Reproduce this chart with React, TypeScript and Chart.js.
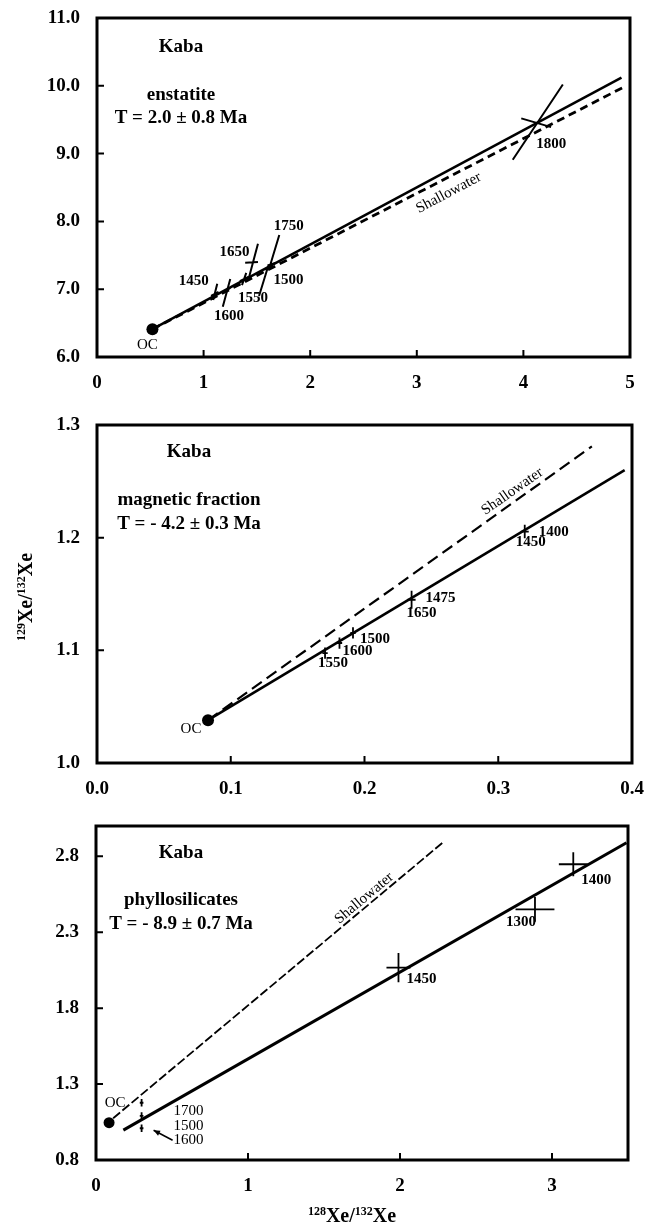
import React, { useEffect, useRef } from 'react';
import { Chart, registerables } from 'chart.js';

Chart.register(...registerables);

const SERIF = '"Liberation Serif", "Times New Roman", Times, serif';

// ---------------- Panel 1: enstatite ----------------
const p1XTicks = [0, 1, 2, 3, 4, 5];
const p1YTicks = [6, 7, 8, 9, 10, 11];
const p1FitX = [0.52, 4.92];
const p1FitY = [6.41, 10.12];
const p1ShalX = [0.52, 4.94];
const p1ShalY = [6.41, 9.98];
const p1OcX = [0.52];
const p1OcY = [6.41];
const p1Steps = ['1450', '1600', '1550', '1650', '1500', '1750', '1800'];
const p1X = [1.105, 1.22, 1.38, 1.45, 1.6, 1.64, 4.11];
const p1Y = [6.93, 6.99, 7.15, 7.39, 7.31, 7.37, 9.46];
// correlated error arms [x1, y1, x2, y2]
const p1ArmA = [
  [1.128, 7.08, 1.09, 6.84],
  [1.25, 7.15, 1.18, 6.74],
  [1.4, 7.24, 1.36, 7.06],
  [1.51, 7.67, 1.42, 7.14],
  [1.61, 7.36, 1.52, 6.9],
  [1.71, 7.8, 1.62, 7.33],
  [4.37, 10.02, 3.9, 8.91],
];
const p1ArmB = [
  [1.07, 6.9, 1.14, 6.96],
  [1.19, 6.96, 1.25, 7.02],
  [1.34, 7.12, 1.42, 7.18],
  [1.39, 7.39, 1.51, 7.4],
  [1.57, 7.29, 1.65, 7.34],
  [1.6, 7.35, 1.68, 7.39],
  [3.98, 9.52, 4.26, 9.39],
];

// ---------------- Panel 2: magnetic fraction ----------------
const p2XTicks = [0, 0.1, 0.2, 0.3, 0.4];
const p2YTicks = [1.0, 1.1, 1.2, 1.3];
const p2FitX = [0.083, 0.3945];
const p2FitY = [1.038, 1.26];
const p2ShalX = [0.083, 0.37];
const p2ShalY = [1.038, 1.281];
const p2OcX = [0.083];
const p2OcY = [1.038];
const p2Steps = [['1400', '1450'], ['1475', '1650'], ['1500'], ['1600'], ['1550']];
const p2X = [0.3198, 0.2352, 0.1914, 0.1813, 0.1705];
const p2Y = [1.2054, 1.1449, 1.1154, 1.1065, 1.0976];
const p2XErr = [0.003, 0.003, 0.002, 0.002, 0.002];
const p2YErr = [0.006, 0.008, 0.005, 0.005, 0.005];

// ---------------- Panel 3: phyllosilicates ----------------
const p3XTicks = [0, 1, 2, 3];
const p3YTicks = [0.8, 1.3, 1.8, 2.3, 2.8];
const p3FitX = [0.18, 3.49];
const p3FitY = [0.997, 2.89];
const p3ShalX = [0.113, 2.28];
const p3ShalY = [1.075, 2.89];
const p3OcX = [0.086];
const p3OcY = [1.046];
const p3Steps = [['1400'], ['1300'], ['1450'], ['1700'], ['1500'], ['1600']];
const p3X = [3.14, 2.888, 1.99, 0.3, 0.3, 0.3];
const p3Y = [2.748, 2.451, 2.067, 1.177, 1.09, 1.009];
const p3XErr = [0.095, 0.128, 0.079, 0.012, 0.012, 0.012];
const p3YErr = [0.079, 0.082, 0.096, 0.025, 0.025, 0.025];

// ---------------- helpers ----------------
type Seg = number[];
const pts = (xs: number[], ys: number[]) => xs.map((x, i) => ({ x, y: ys[i] }));
const segData = (segs: Seg[]) => {
  const out: any[] = [];
  segs.forEach(([x1, y1, x2, y2]) => {
    out.push({ x: x1, y: y1 }, { x: x2, y: y2 }, { x: x2, y: null });
  });
  return out;
};
const errSegs = (xs: number[], ys: number[], xe: number[], ye: number[]): Seg[] => {
  const s: Seg[] = [];
  xs.forEach((x, i) => {
    s.push([x - xe[i], ys[i], x + xe[i], ys[i]]);
    s.push([x, ys[i] - ye[i], x, ys[i] + ye[i]]);
  });
  return s;
};

interface PanelDef {
  top: number;
  height: number;
  pad: { top: number; right: number };
  yWidth: number;
  xHeight: number;
  xMin: number; xMax: number; yMin: number; yMax: number;
  xTicks: number[]; yTicks: number[]; xDec: number; yDec: number;
  fit: any[]; shal: any[]; oc: any[]; arms: Seg[];
  fitWidth: number; shalWidth: number; shalDash: number[]; ocRadius: number; armWidth: number;
  header: { text: string; dx: number; dy: number }[];
  stepPts: { x: number; y: number }[];
  stepLabels: string[][];
  labelOffsets: number[][][];
  labelWeights: string[];
  ocOffset: number[];
  shalLabel: { x: number; y: number; rot: number };
  arrow?: { idx: number; from: number[]; to: number[] };
  yTitle?: { x: number; y: number };
  xTitle?: { x: number; y: number };
}

const drawSupTitle = (ctx: CanvasRenderingContext2D, cx: number, cy: number, rot: number, a: string, b: string) => {
  const main = `bold 20px ${SERIF}`;
  const sup = `bold 12px ${SERIF}`;
  const parts: [string, string, number][] = [
    [a, sup, -7], ['Xe', main, 0], ['/', main, 0], [b, sup, -7], ['Xe', main, 0],
  ];
  ctx.save();
  ctx.translate(cx, cy);
  ctx.rotate(rot);
  ctx.textBaseline = 'alphabetic';
  ctx.textAlign = 'left';
  let total = 0;
  parts.forEach(([t, f]) => { ctx.font = f; total += ctx.measureText(t).width; });
  let x = -total / 2;
  parts.forEach(([t, f, dy]) => {
    ctx.font = f;
    ctx.fillText(t, x, 7 + dy);
    x += ctx.measureText(t).width;
  });
  ctx.restore();
};

const decorPlugin = (def: PanelDef) => ({
  id: 'decor',
  afterDatasetsDraw(chart: any) {
    const { ctx, chartArea: a, scales } = chart;
    const xs = scales.x;
    const ys = scales.y;
    ctx.save();
    ctx.strokeStyle = '#000';
    ctx.fillStyle = '#000';
    // frame
    ctx.lineWidth = 3;
    ctx.strokeRect(a.left, a.top, a.right - a.left, a.bottom - a.top);
    // inward tick marks
    ctx.lineWidth = 2;
    ctx.beginPath();
    ys.ticks.forEach((t: any) => {
      const p = ys.getPixelForValue(t.value);
      ctx.moveTo(a.left, p);
      ctx.lineTo(a.left + 7, p);
    });
    xs.ticks.forEach((t: any) => {
      const p = xs.getPixelForValue(t.value);
      ctx.moveTo(p, a.bottom);
      ctx.lineTo(p, a.bottom - 7);
    });
    ctx.stroke();
    // header text
    ctx.textAlign = 'center';
    ctx.textBaseline = 'middle';
    ctx.font = `bold 19px ${SERIF}`;
    def.header.forEach((h) => ctx.fillText(h.text, a.left + h.dx, a.top + h.dy));
    // step labels
    def.stepPts.forEach((p, i) => {
      const px = xs.getPixelForValue(p.x);
      const py = ys.getPixelForValue(p.y);
      ctx.font = `${def.labelWeights[i]} 15px ${SERIF}`;
      def.stepLabels[i].forEach((lab, j) => {
        const off = def.labelOffsets[i][j];
        ctx.fillText(lab, px + off[0], py + off[1]);
      });
    });
    // OC label
    const ocx = xs.getPixelForValue(def.oc[0].x);
    const ocy = ys.getPixelForValue(def.oc[0].y);
    ctx.font = `15px ${SERIF}`;
    ctx.fillText('OC', ocx + def.ocOffset[0], ocy + def.ocOffset[1]);
    // Shallowater label
    ctx.save();
    ctx.translate(xs.getPixelForValue(def.shalLabel.x), ys.getPixelForValue(def.shalLabel.y));
    ctx.rotate((def.shalLabel.rot * Math.PI) / 180);
    ctx.font = `15px ${SERIF}`;
    ctx.fillText('Shallowater', 0, 0);
    ctx.restore();
    // arrow
    if (def.arrow) {
      const p = def.stepPts[def.arrow.idx];
      const px = xs.getPixelForValue(p.x);
      const py = ys.getPixelForValue(p.y);
      const x1 = px + def.arrow.from[0], y1 = py + def.arrow.from[1];
      const x2 = px + def.arrow.to[0], y2 = py + def.arrow.to[1];
      ctx.lineWidth = 1.5;
      ctx.beginPath();
      ctx.moveTo(x1, y1);
      ctx.lineTo(x2, y2);
      ctx.stroke();
      const ang = Math.atan2(y2 - y1, x2 - x1);
      ctx.beginPath();
      ctx.moveTo(x2, y2);
      ctx.lineTo(x2 - 7 * Math.cos(ang - 0.4), y2 - 7 * Math.sin(ang - 0.4));
      ctx.lineTo(x2 - 7 * Math.cos(ang + 0.4), y2 - 7 * Math.sin(ang + 0.4));
      ctx.closePath();
      ctx.fill();
    }
    if (def.yTitle) drawSupTitle(ctx, def.yTitle.x, def.yTitle.y, -Math.PI / 2, '129', '132');
    if (def.xTitle) drawSupTitle(ctx, def.xTitle.x, def.xTitle.y, 0, '128', '132');
    ctx.restore();
  },
});

const buildConfig = (def: PanelDef): any => ({
  type: 'scatter',
  data: {
    datasets: [
      { data: def.fit, showLine: true, borderColor: '#000', borderWidth: def.fitWidth, pointRadius: 0 },
      { data: def.shal, showLine: true, borderColor: '#000', borderWidth: def.shalWidth, borderDash: def.shalDash, pointRadius: 0 },
      { data: segData(def.arms), showLine: true, spanGaps: false, borderColor: '#000', borderWidth: def.armWidth, pointRadius: 0 },
      { data: def.oc, showLine: false, pointRadius: def.ocRadius, backgroundColor: '#000', borderColor: '#000', borderWidth: 0 },
    ],
  },
  options: {
    animation: false,
    responsive: false,
    devicePixelRatio: 1,
    events: [],
    layout: { padding: { top: def.pad.top, right: def.pad.right, left: 0, bottom: 0 } },
    plugins: { legend: { display: false }, tooltip: { enabled: false } },
    scales: {
      x: {
        type: 'linear',
        min: def.xMin,
        max: def.xMax,
        afterBuildTicks: (s: any) => { s.ticks = def.xTicks.map((v) => ({ value: v })); },
        afterFit: (s: any) => {
          s.height = def.xHeight;
          s.paddingLeft = 0;
          s.paddingRight = 0;
        },
        grid: { display: false, drawTicks: false },
        border: { display: false },
        ticks: {
          autoSkip: false,
          maxRotation: 0,
          padding: 15,
          color: '#000',
          font: { family: SERIF, size: 19, weight: 'bold' },
          callback: (v: number) => Number(v).toFixed(def.xDec),
        },
      },
      y: {
        type: 'linear',
        min: def.yMin,
        max: def.yMax,
        afterBuildTicks: (s: any) => { s.ticks = def.yTicks.map((v) => ({ value: v })); },
        afterFit: (s: any) => {
          s.width = def.yWidth;
          s.paddingTop = 0;
          s.paddingBottom = 0;
        },
        grid: { display: false, drawTicks: false },
        border: { display: false },
        ticks: {
          autoSkip: false,
          padding: 17,
          color: '#000',
          font: { family: SERIF, size: 19, weight: 'bold' },
          callback: (v: number) => Number(v).toFixed(def.yDec),
        },
      },
    },
  },
  plugins: [decorPlugin(def)],
});

const panel1: PanelDef = {
  top: 0, height: 400, pad: { top: 18, right: 15 }, yWidth: 97, xHeight: 43,
  xMin: 0, xMax: 5, yMin: 6, yMax: 11, xTicks: p1XTicks, yTicks: p1YTicks, xDec: 0, yDec: 1,
  fit: pts(p1FitX, p1FitY), shal: pts(p1ShalX, p1ShalY), oc: pts(p1OcX, p1OcY),
  arms: [...p1ArmA, ...p1ArmB],
  fitWidth: 2.5, shalWidth: 2.8, shalDash: [8, 5], ocRadius: 6, armWidth: 2,
  header: [
    { text: 'Kaba', dx: 84, dy: 29 },
    { text: 'enstatite', dx: 84, dy: 77 },
    { text: 'T = 2.0 ± 0.8 Ma', dx: 84, dy: 100 },
  ],
  stepPts: pts(p1X, p1Y),
  stepLabels: p1Steps.map((s) => [s]),
  labelOffsets: [[[-21, -13]], [[2, 26]], [[9, 19]], [[-17, -11]], [[21, 12]], [[17, -38]], [[16, 22]]],
  labelWeights: p1Steps.map(() => 'bold'),
  ocOffset: [-5, 16],
  shalLabel: { x: 3.3, y: 8.42, rot: -28 },
};

const panel2: PanelDef = {
  top: 400, height: 400, pad: { top: 25, right: 13 }, yWidth: 97, xHeight: 37,
  xMin: 0, xMax: 0.4, yMin: 1.0, yMax: 1.3, xTicks: p2XTicks, yTicks: p2YTicks, xDec: 1, yDec: 1,
  fit: pts(p2FitX, p2FitY), shal: pts(p2ShalX, p2ShalY), oc: pts(p2OcX, p2OcY),
  arms: errSegs(p2X, p2Y, p2XErr, p2YErr),
  fitWidth: 2.6, shalWidth: 2.2, shalDash: [12, 6], ocRadius: 6, armWidth: 1.8,
  header: [
    { text: 'Kaba', dx: 92, dy: 27 },
    { text: 'magnetic fraction', dx: 92, dy: 75 },
    { text: 'T = - 4.2 ± 0.3 Ma', dx: 92, dy: 99 },
  ],
  stepPts: pts(p2X, p2Y),
  stepLabels: p2Steps,
  labelOffsets: [[[29, 1], [6, 11]], [[29, -2], [10, 13]], [[22, 6]], [[18, 8]], [[8, 10]]],
  labelWeights: p2Steps.map(() => 'bold'),
  ocOffset: [-17, 9],
  shalLabel: { x: 0.3105, y: 1.241, rot: -35 },
  yTitle: { x: 25, y: 197 },
};

const panel3: PanelDef = {
  top: 800, height: 423, pad: { top: 26, right: 17 }, yWidth: 96, xHeight: 63,
  xMin: 0, xMax: 3.5, yMin: 0.8, yMax: 3.0, xTicks: p3XTicks, yTicks: p3YTicks, xDec: 0, yDec: 1,
  fit: pts(p3FitX, p3FitY), shal: pts(p3ShalX, p3ShalY), oc: pts(p3OcX, p3OcY),
  arms: errSegs(p3X, p3Y, p3XErr, p3YErr),
  fitWidth: 3, shalWidth: 1.8, shalDash: [9, 3], ocRadius: 5.5, armWidth: 1.8,
  header: [
    { text: 'Kaba', dx: 85, dy: 27 },
    { text: 'phyllosilicates', dx: 85, dy: 74 },
    { text: 'T = - 8.9 ± 0.7 Ma', dx: 85, dy: 98 },
  ],
  stepPts: pts(p3X, p3Y),
  stepLabels: p3Steps,
  labelOffsets: [[[23, 16]], [[-14, 13]], [[23, 11]], [[47, 8]], [[47, 10]], [[47, 12]]],
  labelWeights: ['bold', 'bold', 'bold', 'normal', 'normal', 'normal'],
  ocOffset: [6, -20],
  shalLabel: { x: 1.764, y: 2.524, rot: -40 },
  arrow: { idx: 5, from: [31, 12], to: [12, 2] },
  xTitle: { x: 352, y: 415 },
};

function Panel({ def }: { def: PanelDef }) {
  const ref = useRef<HTMLCanvasElement>(null);
  useEffect(() => {
    const chart = new Chart(ref.current as HTMLCanvasElement, buildConfig(def));
    return () => chart.destroy();
  }, [def]);
  return (
    <canvas
      ref={ref}
      width={645}
      height={def.height}
      style={{ position: 'absolute', left: 0, top: def.top, width: 645, height: def.height, display: 'block' }}
    />
  );
}

export default function App() {
  return (
    <div style={{ position: 'absolute', left: 0, top: 0, width: 645, height: 1223, background: '#fff' }}>
      <Panel def={panel1} />
      <Panel def={panel2} />
      <Panel def={panel3} />
    </div>
  );
}
